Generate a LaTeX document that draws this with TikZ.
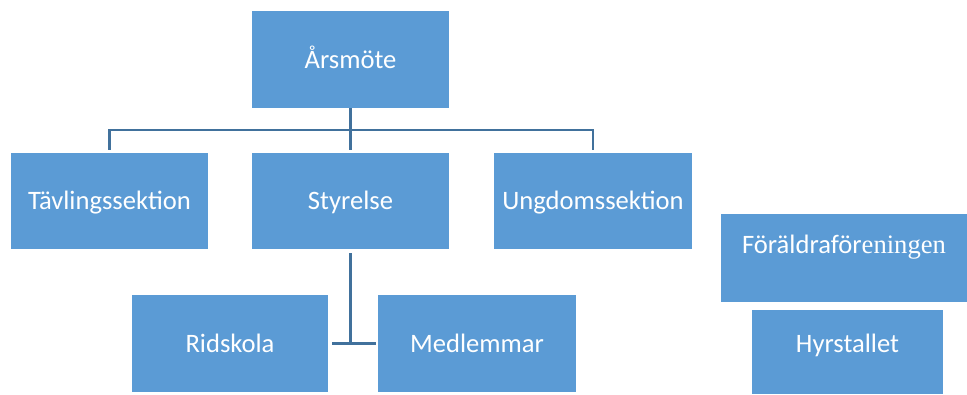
\documentclass[tikz,border=0pt]{standalone}
\usepackage{fontspec}
\setmainfont{Carlito}
\newfontfamily\serifpart{Liberation Serif}
\definecolor{boxblue}{HTML}{5B9BD5}
\definecolor{lineblue}{HTML}{41719C}
\begin{document}
\begin{tikzpicture}[x=1pt,y=-1pt,
  orgbox/.style={fill=boxblue, draw=none, text=white, font=\fontsize{26.6}{30}\selectfont,
    minimum width=197pt, minimum height=97pt, inner sep=0pt, text height=21pt, text depth=4pt},
  conn/.style={draw=lineblue, line width=2.6pt}]
\useasboundingbox[fill=white] (0,0) rectangle (967,394);
\node[orgbox] (ars) at (350.5,59.5) {Årsmöte};
\node[orgbox, minimum height=96pt] (tav) at (109.5,201) {Tävlingssektion};
\node[orgbox, minimum height=96pt] (sty) at (350.5,201) {Styrelse};
\node[orgbox, minimum height=96pt, minimum width=198pt] (ung) at (593,201) {Ungdomssektion};
\node[orgbox, minimum width=196pt] (rid) at (230,343.5) {Ridskola};
\node[orgbox, minimum width=198pt] (med) at (477,343.5) {Medlemmar};
\node[orgbox, minimum width=246pt, minimum height=88pt, text depth=31pt] (for) at (844,258) {Föräldraför{\serifpart eningen}};
\node[orgbox, minimum width=191pt, minimum height=84pt, text depth=21pt] (hyr) at (847.5,352) {Hyrstallet};
\draw[conn] (ars.south) -- ([yshift=3pt]sty.north);
\draw[conn] ([yshift=3pt]tav.north) |- ([yshift=23pt]ung.north) -- ([yshift=3pt]ung.north);
\draw[conn] ([yshift=-4pt]sty.south) -- (sty.south |- rid.east);
\draw[conn] ([xshift=4pt]rid.east) -- ([xshift=-2pt]med.west);
\end{tikzpicture}
\end{document}
